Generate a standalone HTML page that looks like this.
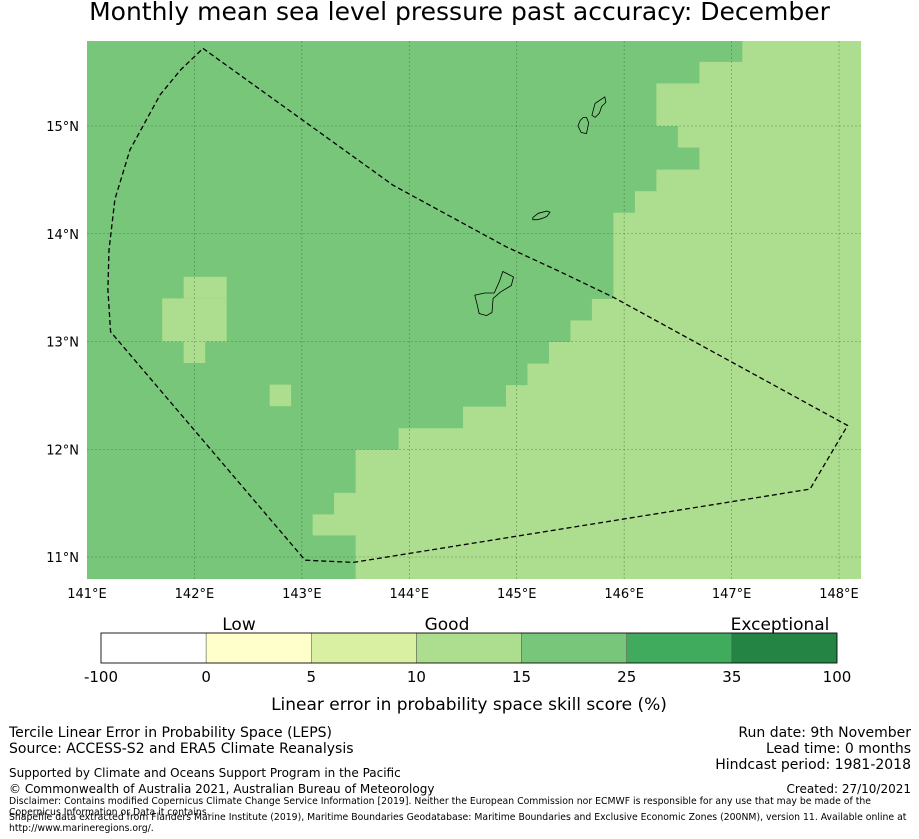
<!DOCTYPE html>
<html><head><meta charset="utf-8">
<style>
body{margin:0;background:#fff;width:919px;height:839px;overflow:hidden;font-family:"Liberation Sans","DejaVu Sans",sans-serif;}
.t{position:absolute;white-space:nowrap;color:#000}
</style></head>
<body>
<div class="t" style="left:0;width:919px;text-align:center;top:-3px;font-size:25px;font-family:'DejaVu Sans',sans-serif">Monthly mean sea level pressure past accuracy: December</div>
<svg id="map" width="919" height="839" style="position:absolute;left:0;top:0" xmlns="http://www.w3.org/2000/svg"></svg>
<div class="t" style="left:9px;top:725px;font-size:14px;font-family:'DejaVu Sans',sans-serif;line-height:16px">Tercile Linear Error in Probability Space (LEPS)<br>Source: ACCESS-S2 and ERA5 Climate Reanalysis</div>
<div class="t" style="right:8px;top:725px;font-size:14px;font-family:'DejaVu Sans',sans-serif;line-height:16px;text-align:right">Run date: 9th November<br>Lead time: 0 months<br>Hindcast period: 1981-2018</div>
<div class="t" style="left:9px;top:766px;font-size:12px;font-family:'DejaVu Sans',sans-serif">Supported by Climate and Oceans Support Program in the Pacific</div>
<div class="t" style="left:9px;top:782px;font-size:12px;font-family:'DejaVu Sans',sans-serif">© Commonwealth of Australia 2021, Australian Bureau of Meteorology</div>
<div class="t" style="right:8px;top:782px;font-size:12px;font-family:'DejaVu Sans',sans-serif">Created: 27/10/2021</div>
<div class="t" style="left:9px;top:796px;font-size:9.3px;font-family:'DejaVu Sans',sans-serif;line-height:11px;white-space:normal;width:900px">Disclaimer: Contains modified Copernicus Climate Change Service Information [2019]. Neither the European Commission nor ECMWF is responsible for any use that may be made of the Copernicus Information or Data it contains.</div>
<div class="t" style="left:9px;top:813px;font-size:9.3px;font-family:'DejaVu Sans',sans-serif;line-height:10.5px;white-space:normal;width:905px">Shapefile data extracted from Flanders Marine Institute (2019), Maritime Boundaries Geodatabase: Maritime Boundaries and Exclusive Economic Zones (200NM), version 11. Available online at http://www.marineregions.org/.</div>
<script>
// data
const rowTopLats=[15.8,15.6,15.4,15.2,15.0,14.8,14.6,14.4,14.2,14.0,13.8,13.6,13.4,13.2,13.0,12.8,12.6,12.4,12.2,12.0,11.8,11.6,11.4,11.2,11.0];
const rowBoundaryLon=[147.1,146.7,146.3,146.3,146.5,146.7,146.3,146.1,145.9,145.9,145.9,145.9,145.7,145.5,145.3,145.1,144.9,144.5,143.9,143.5,143.5,143.3,143.1,143.5,143.5];
const patchLon0=[141.9,141.7,141.9,142.7];
const patchLon1=[142.3,142.3,142.1,142.9];
const patchLatTop=[13.6,13.4,13.0,12.6];
const patchLatBot=[13.4,13.0,12.8,12.4];
const lonTicks=[141,142,143,144,145,146,147,148];
const latTicks=[11,12,13,14,15];
const cbBounds=["-100","0","5","10","15","25","35","100"];
const cbColors=["#ffffff","#ffffcc","#d9f0a3","#addd8e","#78c679","#41ab5d","#238443"];
const eezLon=[142.08,143.85,144.9,145.4,145.9,148.08,147.73,143.48,143.03,141.22,141.195,141.205,141.26,141.40,141.68,141.87,142.08];
const eezLat=[15.72,14.45,13.88,13.65,13.41,12.22,11.63,10.95,10.97,13.09,13.48,13.85,14.32,14.78,15.29,15.52,15.72];
const guamLon=[144.87,144.97,144.95,144.85,144.78,144.77,144.72,144.65,144.63,144.61,144.70,144.79,144.84];
const guamLat=[13.65,13.6,13.52,13.46,13.4,13.27,13.24,13.26,13.35,13.43,13.45,13.45,13.56];
const saipanLon=[145.70,145.73,145.82,145.83,145.79,145.77,145.73];
const saipanLat=[15.1,15.21,15.27,15.22,15.18,15.12,15.08];
const tinianLon=[145.62,145.65,145.67,145.65,145.60,145.57,145.59];
const tinianLat=[15.08,15.08,15.03,14.93,14.94,15.0,15.05];
const rotaLon=[145.15,145.2,145.28,145.31,145.28,145.23,145.19,145.15];
const rotaLat=[14.15,14.19,14.21,14.2,14.16,14.14,14.13,14.13];
const NS="http://www.w3.org/2000/svg";
const svg=document.getElementById('map');
const X0=87,X1=861,Y0=41,Y1=579;
function lx(lon){return 87+(lon-141)*107.43;}
function ly(lat){return 126+(15-lat)*107.75;}
function mk(t,a){const e=document.createElementNS(NS,t);for(const k in a)e.setAttribute(k,a[k]);svg.appendChild(e);return e;}
function txt(x,y,s,size,anchor){const e=mk('text',{x:x,y:y,'font-size':size,'text-anchor':anchor,'font-family':'DejaVu Sans, sans-serif',fill:'#000'});e.textContent=s;return e;}
let bg=mk('rect',{x:X0,y:Y0,width:X1-X0,height:Y1-Y0,fill:'#addd8e'});


for(let i=0;i<rowTopLats.length;i++){
 const y0=Math.max(Y0,ly(rowTopLats[i])),y1=Math.min(Y1,ly(rowTopLats[i]-0.2));
 const r=mk('rect',{x:X0,y:y0,width:lx(rowBoundaryLon[i])-X0,height:y1-y0+0.5,fill:'#78c679'});
 
 
}
for(let i=0;i<patchLon0.length;i++){
 const r=mk('rect',{x:lx(patchLon0[i]),y:ly(patchLatTop[i]),width:lx(patchLon1[i])-lx(patchLon0[i]),height:ly(patchLatBot[i])-ly(patchLatTop[i]),fill:'#addd8e'});
 
 
}
lonTicks.forEach(l=>{const x=lx(l);
 if(l>141){const g=mk('line',{x1:x,x2:x,y1:Y0,y2:Y1,stroke:'#2f5f2f','stroke-width':0.6,'stroke-dasharray':'2,2',opacity:0.6});
 
 }
 const t=txt(x,598,l+'°E',13,'middle');
 
 
});
latTicks.forEach(l=>{const y=ly(l);
 const g=mk('line',{x1:X0,x2:X1,y1:y,y2:y,stroke:'#2f5f2f','stroke-width':0.6,'stroke-dasharray':'2,2',opacity:0.6});
 
 
 const t=txt(79,y+5,l+'°N',13,'end');
 
 
});
function poly(lons,lats,attrs,name){
 const pts=lons.map((l,i)=>lx(l).toFixed(1)+','+ly(lats[i]).toFixed(1)).join(' ');
 const p=mk('polygon',Object.assign({points:pts},attrs));
 
 
}
poly(eezLon,eezLat,{fill:'none',stroke:'#000','stroke-width':1.3,'stroke-dasharray':'5,3','stroke-linejoin':'round'},'eez-boundary');
const isl={fill:'none',stroke:'#000','stroke-width':0.8};
poly(guamLon,guamLat,isl,'guam-outline');
poly(saipanLon,saipanLat,isl,'saipan-outline');
poly(tinianLon,tinianLat,isl,'tinian-outline');
poly(rotaLon,rotaLat,isl,'rota-outline');
// colorbar
const cbX0=101,cbX1=837,cbY=633,cbH=30,w=(cbX1-cbX0)/cbColors.length;
cbColors.forEach((c,i)=>{const r=mk('rect',{x:cbX0+i*w,y:cbY,width:w,height:cbH,fill:c,stroke:'#555','stroke-width':0.5});
 
 });
mk('rect',{x:cbX0,y:cbY,width:cbX1-cbX0,height:cbH,fill:'none',stroke:'#000','stroke-width':0.8});
cbBounds.forEach((b,i)=>{const t=txt(cbX0+i*w,682,b,15,'middle');
 
 });
[['Low',239],['Good',447],['Exceptional',780]].forEach(a=>{const t=txt(a[1],630,a[0],17,'middle');
 
 });
const ct=txt(469,710,'Linear error in probability space skill score (%)',17,'middle');


</script>
</body></html>
